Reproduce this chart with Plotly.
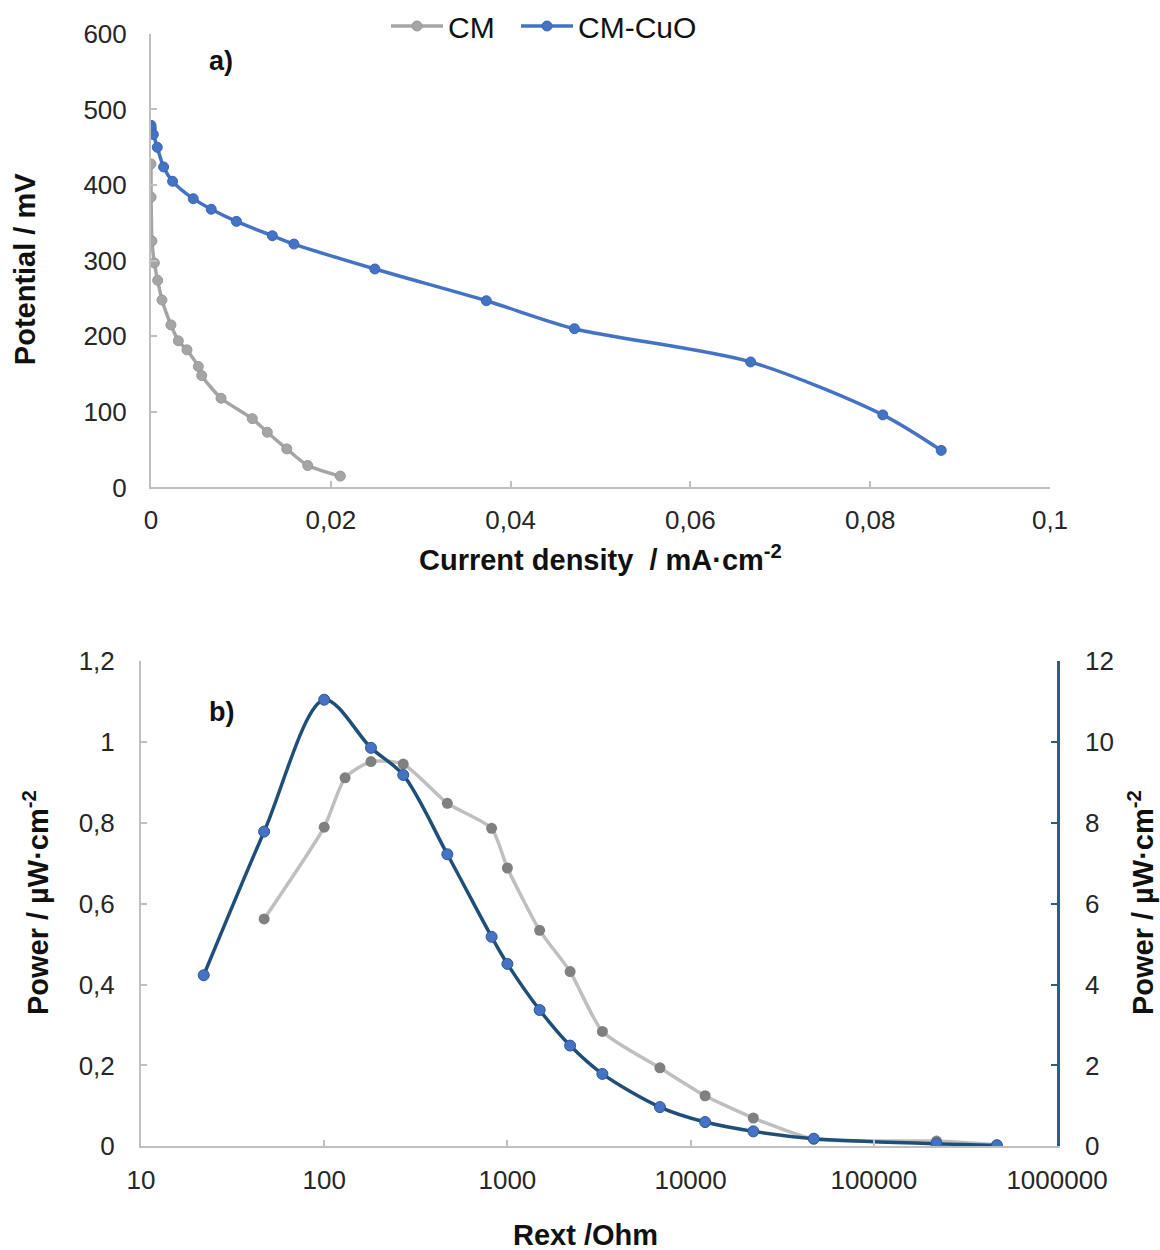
import plotly.graph_objects as go

# ---- Panel a) polarization data ----
cm_j = [0.00000, 0.00001, 0.00011, 0.00037, 0.00074, 0.00122, 0.00222, 0.00304, 0.00400,
        0.00526, 0.00564, 0.00779, 0.01127, 0.01294, 0.01510, 0.01743, 0.02106]
cm_E = [428, 384, 326, 297, 274, 248, 215, 194, 182, 160, 148, 118, 91, 73, 51, 29, 15]

cuo_j = [0.00000, 0.00003, 0.00026, 0.0007, 0.0014, 0.0024, 0.0047, 0.0067, 0.0095,
         0.0135, 0.0159, 0.0249, 0.0373, 0.0471, 0.0667, 0.0814, 0.0879]
cuo_E = [479, 475, 467, 450, 424, 405, 382, 368, 352, 333, 322, 289, 247, 210, 166, 96, 49]

# ---- Panel b) power data ----
cm_R = [47, 100, 130, 180, 270, 470, 820, 1000, 1500, 2200, 3300, 6800, 12000, 22000,
        47000, 220000, 470000]
cm_P = [0.562, 0.789, 0.911, 0.951, 0.945, 0.848, 0.786, 0.688, 0.534, 0.432, 0.284, 0.194,
        0.125, 0.070, 0.018, 0.013, 0.004]

cuo_R = [22, 47, 100, 180, 270, 470, 820, 1000, 1500, 2200, 3300, 6800, 12000, 22000,
         47000, 220000, 470000]
cuo_P = [4.23, 7.78, 11.04, 9.85, 9.18, 7.22, 5.18, 4.51, 3.37, 2.49, 1.79, 0.97, 0.60, 0.37,
         0.19, 0.066, 0.025]

# ---- Tick labels ----
a_xtickvals = [0, 0.02, 0.04, 0.06, 0.08, 0.1]
a_xticktext = ["0", "0,02", "0,04", "0,06", "0,08", "0,1"]
a_ytickvals = [0, 100, 200, 300, 400, 500, 600]
b_xtickvals = [10, 100, 1000, 10000, 100000, 1000000]
b_xticktext = ["10", "100", "1000", "10000", "100000", "1000000"]
b_ytickvals = [0, 0.2, 0.4, 0.6, 0.8, 1.0, 1.2]
b_yticktext = ["0", "0,2", "0,4", "0,6", "0,8", "1", "1,2"]
b_y2tickvals = [0, 2, 4, 6, 8, 10, 12]

W, H = 1160, 1250
GRAY = "#A5A5A5"
BLUE = "#4472C4"
NAVY = "#1F4E79"
AXG = "#BFBFBF"
TXT = "#262626"
FONT = "Liberation Sans, Arial, sans-serif"

fig = go.Figure()

fig.add_trace(go.Scatter(x=cm_j, y=cm_E, name="CM", mode="lines+markers", legend="legend",
                         line=dict(color=GRAY, width=3.5, shape="spline", smoothing=0.6),
                         marker=dict(color=GRAY, size=10, line=dict(color="#999999", width=1)),
                         xaxis="x", yaxis="y"))
fig.add_trace(go.Scatter(x=cuo_j, y=cuo_E, name="CM-CuO", mode="lines+markers", legend="legend2",
                         line=dict(color=BLUE, width=3.5, shape="spline", smoothing=0.8),
                         marker=dict(color=BLUE, size=10, line=dict(color="#3A66B5", width=1)),
                         xaxis="x", yaxis="y"))

fig.add_trace(go.Scatter(x=cm_R, y=cm_P, name="CM", mode="lines+markers", showlegend=False,
                         line=dict(color="#BFBFBF", width=3.5, shape="spline", smoothing=0.6),
                         marker=dict(color="#808080", size=11),
                         xaxis="x2", yaxis="y2"))
fig.add_trace(go.Scatter(x=cuo_R, y=cuo_P, name="CM-CuO", mode="lines+markers", showlegend=False,
                         line=dict(color=NAVY, width=3.5, shape="spline", smoothing=0.9),
                         marker=dict(color=BLUE, size=11, line=dict(color="#2F5597", width=1)),
                         xaxis="x2", yaxis="y3"))

def px_x(p):
    return p / W

def px_y(p):
    return 1 - p / H

tickfont = dict(family=FONT, size=26, color=TXT)
common = dict(showgrid=False, zeroline=False, showline=True, linewidth=2, linecolor=AXG,
              ticks="inside", ticklen=6, tickwidth=2, tickcolor=AXG, tickfont=tickfont,
              automargin=False)

legend_common = dict(orientation="h", xanchor="left", yanchor="middle",
                     font=dict(family=FONT, size=30, color="#111111"),
                     bgcolor="rgba(0,0,0,0)", itemwidth=52)

fig.update_layout(
    width=W, height=H,
    margin=dict(l=0, r=0, t=0, b=0),
    paper_bgcolor="white", plot_bgcolor="white",
    font=dict(family=FONT, color=TXT),
    showlegend=True,
    legend=dict(x=px_x(386), y=px_y(22), **legend_common),
    legend2=dict(x=px_x(516), y=px_y(22), **legend_common),
    xaxis=dict(domain=[px_x(151), px_x(1050)], range=[0, 0.1], anchor="y",
               tickvals=a_xtickvals, ticktext=a_xticktext, ticklabelstandoff=8, **common),
    yaxis=dict(domain=[px_y(485), px_y(30)], range=[0, 600], anchor="x",
               tickvals=a_ytickvals, ticklabelstandoff=17, **common),
    xaxis2=dict(domain=[px_x(141), px_x(1057)], type="log", range=[1, 6], anchor="y2",
                tickvals=b_xtickvals, ticktext=b_xticktext, ticklabelstandoff=9, **common),
    yaxis2=dict(domain=[px_y(1146), px_y(659)], range=[0, 1.2], anchor="x2",
                tickvals=b_ytickvals, ticktext=b_yticktext, ticklabelstandoff=19, **common),
    yaxis3=dict(range=[0, 12], overlaying="y2", side="right", anchor="x2",
                tickvals=b_y2tickvals, showgrid=False, zeroline=False, showline=True,
                linewidth=2.5, linecolor="#2E5C8A", ticks="inside", ticklen=6, tickwidth=2,
                tickcolor="#2E5C8A", tickfont=tickfont, ticklabelstandoff=20, automargin=False),
)

title_font = dict(family=FONT, size=29, color="#111111")
ann = [
    dict(text="<b>a)</b>", x=px_x(221), y=px_y(57), font=dict(family=FONT, size=27, color="#111111")),
    dict(text="<b>b)</b>", x=px_x(221), y=px_y(710), font=dict(family=FONT, size=27, color="#111111")),
    dict(text="<b>Current density\u00a0\u00a0/ mA·cm<sup>-2</sup></b>", x=px_x(600), y=px_y(556), font=title_font),
    dict(text="<b>Potential / mV</b>", x=px_x(25), y=px_y(266), textangle=-90, font=title_font),
    dict(text="<b>Rext /Ohm</b>", x=px_x(585), y=px_y(1235), font=title_font),
    dict(text="<b>Power / µW·cm<sup>-2</sup></b>", x=px_x(36), y=px_y(902), textangle=-90, font=title_font),
    dict(text="<b>Power / µW·cm<sup>-2</sup></b>", x=px_x(1141), y=px_y(902), textangle=-90, font=title_font),
]
for a in ann:
    fig.add_annotation(xref="paper", yref="paper", showarrow=False, xanchor="center",
                       yanchor="middle", **a)

fig.write_html("out.html")
